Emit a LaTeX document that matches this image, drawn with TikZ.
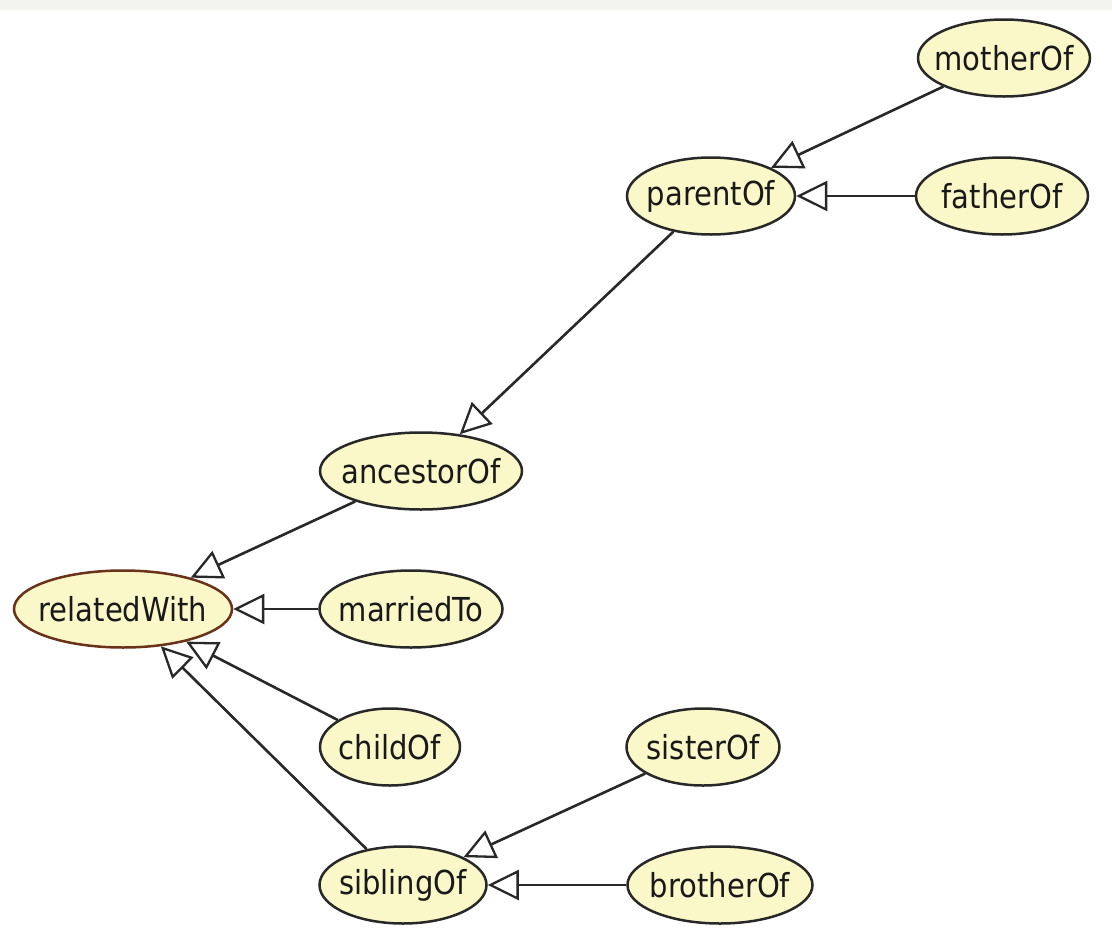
\documentclass[tikz,border=0pt]{standalone}
\usepackage{fontspec}
\setmainfont[FakeStretch=0.88]{DejaVu Sans}
\usetikzlibrary{shapes.geometric,arrows.meta}
\definecolor{nodefill}{RGB}{250,248,200}
\definecolor{edgecol}{RGB}{40,40,40}
\definecolor{rootline}{RGB}{105,50,25}
\definecolor{topstrip}{RGB}{244,244,238}
\tikzset{
  prop/.style={ellipse, draw=edgecol, line width=2.5pt, fill=nodefill, inner sep=0pt,
    minimum height=77pt, font=\fontsize{33}{40}\selectfont, text=black!90},
  isa/.style={draw=edgecol, line width=2.6pt,
    -{Triangle[open, length=31pt, width=30pt, line width=2.3pt, fill=white]}}
}
\newcommand{\lbl}[1]{\makebox[0pt]{#1}}
\begin{document}
\begin{tikzpicture}[x=1pt, y=-1pt]
\useasboundingbox (0,0) rectangle (1112,943);
\fill[white] (0,0) rectangle (1112,943);
\fill[topstrip] (0,0) rectangle (1112,10);
\node[prop, minimum width=172pt] (mother) at (1004,58) {\lbl{motherOf}};
\node[prop, minimum width=168pt] (parent) at (711,196) {\lbl{parentOf}};
\node[prop, minimum width=172pt] (father) at (1002,196) {\lbl{fatherOf}};
\node[prop, minimum width=202pt] (ancestor) at (421,471) {\lbl{ancestorOf}};
\node[prop, minimum width=218pt, draw=rootline] (related) at (123,609) {\lbl{relatedWith}};
\node[prop, minimum width=183pt] (married) at (411,609) {\lbl{marriedTo}};
\node[prop, minimum width=140pt] (child) at (390,747) {\lbl{childOf}};
\node[prop, minimum width=153pt] (sister) at (703,747) {\lbl{sisterOf}};
\node[prop, minimum width=167pt] (sibling) at (403,885) {\lbl{siblingOf}};
\node[prop, minimum width=185pt] (brother) at (720,885) {\lbl{brotherOf}};
\draw[isa] (mother) -- (parent);
\draw[isa] (father) -- (parent);
\draw[isa] (parent) -- (ancestor);
\draw[isa] (ancestor) -- (related);
\draw[isa] (married) -- (related);
\draw[isa] (child) -- (related);
\draw[isa] (sibling) -- (related);
\draw[isa] (sister) -- (sibling);
\draw[isa] (brother) -- (sibling);
\end{tikzpicture}
\end{document}
